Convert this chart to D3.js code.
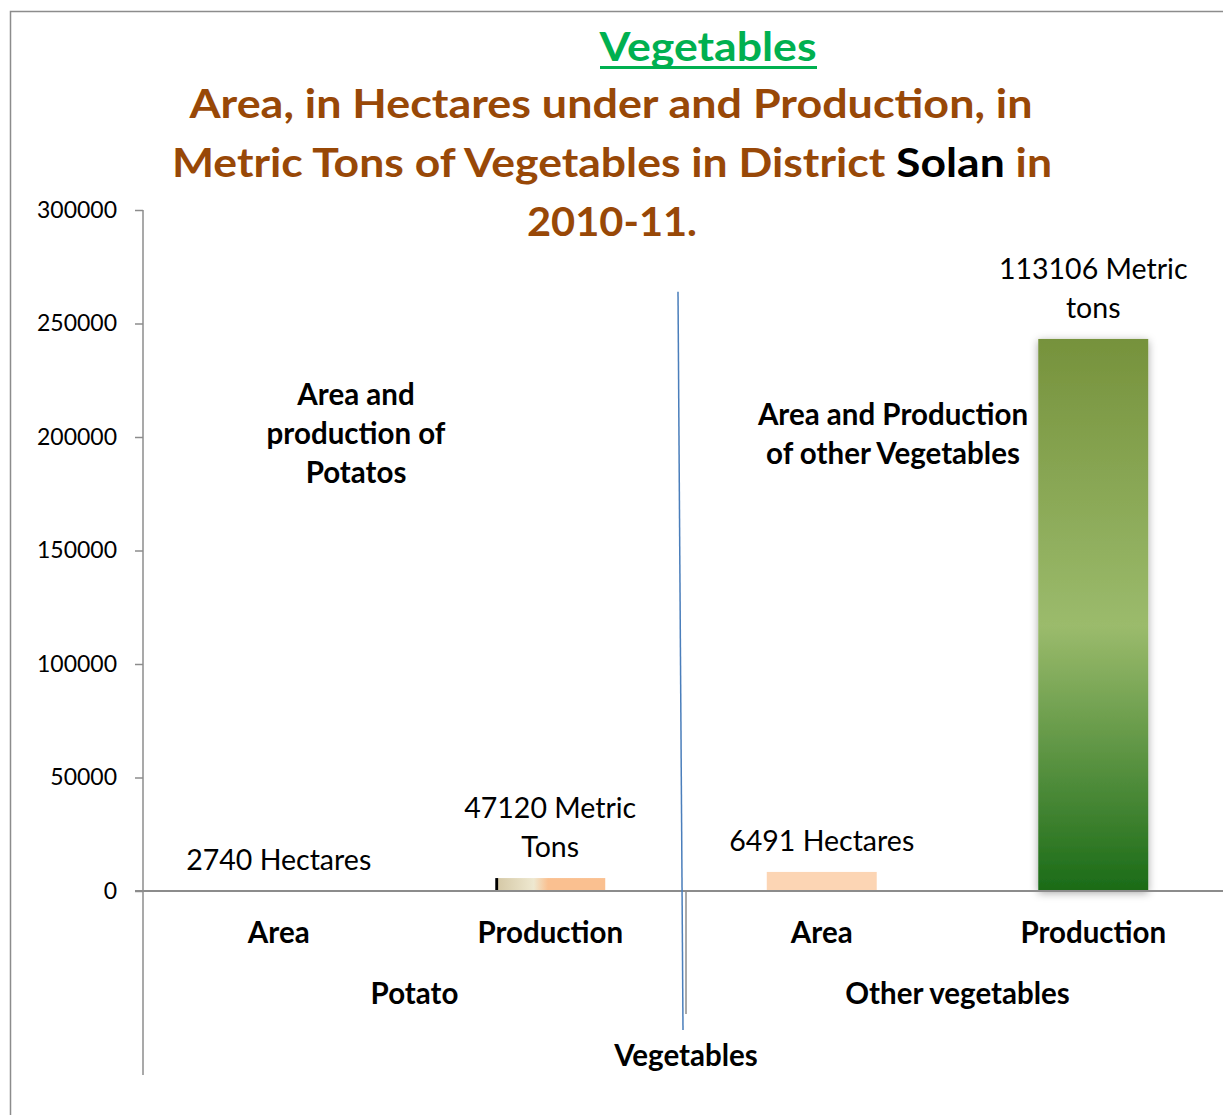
<!DOCTYPE html>
<meta charset="utf-8">
<script src="https://d3js.org/d3.v7.min.js"></script>
<style>
  body { margin: 0; background: #fff; }
  text { font-family: Lato, "Open Sans", sans-serif; }
</style>
<div id="chart"></div>
<script>
  // data
  var categories = ["Potato Area", "Potato Production", "Other Area", "Other Production"];
  var catLabels = ["Area", "Production", "Area", "Production"];
  var values = [0, 5700, 8400, 243200];
  var dataLabels = [["2740 Hectares"], ["47120 Metric", "Tons"], ["6491 Hectares"], ["113106 Metric", "tons"]];
  var groups = ["Potato", "Other vegetables"];
  var yTicks = [0, 50000, 100000, 150000, 200000, 250000, 300000];

  var W = 1223, H = 1115;
  var svg = d3.select("#chart").append("svg")
    .attr("width", W).attr("height", H);

  var defs = svg.append("defs");
  var gGreen = defs.append("linearGradient").attr("id", "green")
    .attr("x1", 0).attr("y1", 0).attr("x2", 0).attr("y2", 1);
  gGreen.append("stop").attr("offset", "0%").attr("stop-color", "#76923c");
  gGreen.append("stop").attr("offset", "52%").attr("stop-color", "#9bbb6c");
  gGreen.append("stop").attr("offset", "100%").attr("stop-color", "#1a6b17");
  var gPot = defs.append("linearGradient").attr("id", "potato")
    .attr("x1", 0).attr("y1", 0).attr("x2", 1).attr("y2", 0);
  gPot.append("stop").attr("offset", "0%").attr("stop-color", "#000");
  gPot.append("stop").attr("offset", "2.5%").attr("stop-color", "#000");
  gPot.append("stop").attr("offset", "3%").attr("stop-color", "#d6caa8");
  gPot.append("stop").attr("offset", "35%").attr("stop-color", "#eee8d0");
  gPot.append("stop").attr("offset", "48%").attr("stop-color", "#fac090");
  gPot.append("stop").attr("offset", "100%").attr("stop-color", "#fac090");
  var sh = defs.append("filter").attr("id", "shadow")
    .attr("x", "-20%").attr("y", "-5%").attr("width", "140%").attr("height", "110%");
  sh.append("feDropShadow").attr("dx", 0).attr("dy", 2).attr("stdDeviation", 4)
    .attr("flood-color", "#000").attr("flood-opacity", 0.35);

  var fills = ["none", "url(#potato)", "#fcd5b4", "url(#green)"];

  // outer frame
  svg.append("path").attr("d", "M10.5," + H + "V11.5H" + W)
    .attr("fill", "none").attr("stroke", "#8c8c8c").attr("stroke-width", 1.5);

  var x = d3.scaleBand().domain(categories).range([143, 1229])
    .paddingInner(0.595).paddingOuter(0.2975);
  var y = d3.scaleLinear().domain([0, 300000]).range([891, 210]);

  // y axis
  var yAxis = svg.append("g").attr("transform", "translate(143,0)")
    .call(d3.axisLeft(y).tickValues(yTicks).tickSize(8).tickPadding(18).tickFormat(d3.format("d")));
  yAxis.select(".domain").remove();
  yAxis.selectAll(".tick line").attr("stroke", "#8c8c8c").attr("stroke-width", 1.5);
  yAxis.selectAll(".tick text").attr("fill", "#000").style("font-size", "23px")
    .style("font-family", "Lato, sans-serif");
  svg.append("line").attr("x1", 143).attr("x2", 143).attr("y1", y(300000)).attr("y2", 1075)
    .attr("stroke", "#8c8c8c").attr("stroke-width", 1.5);

  // bars
  svg.selectAll(".bar").data(categories).enter().append("rect")
    .attr("x", function(d) { return x(d); })
    .attr("y", function(d, i) { return y(values[i]); })
    .attr("width", x.bandwidth())
    .attr("height", function(d, i) { return y(0) - y(values[i]); })
    .attr("fill", function(d, i) { return fills[i]; })
    .attr("filter", function(d, i) { return i == 3 ? "url(#shadow)" : null; });

  // x axis line
  svg.append("line").attr("x1", 135).attr("x2", W).attr("y1", y(0)).attr("y2", y(0))
    .attr("stroke", "#8c8c8c").attr("stroke-width", 2);
  var sep = x.range()[0] + 2 * x.step();
  svg.append("line").attr("x1", sep).attr("x2", sep).attr("y1", y(0)).attr("y2", 1014)
    .attr("stroke", "#8c8c8c").attr("stroke-width", 1.5);

  // data labels
  var lbl = svg.selectAll(".dl").data(categories).enter().append("text")
    .attr("text-anchor", "middle").style("font-size", "28.5px").attr("fill", "#000")
    .attr("x", function(d) { return x(d) + x.bandwidth() / 2; })
    .attr("y", function(d, i) {
      var top = y(values[i]) - 21;
      return top - (dataLabels[i].length - 1) * 39;
    });
  lbl.each(function(d, i) {
    var t = d3.select(this);
    dataLabels[i].forEach(function(s, j) {
      t.append("tspan").attr("x", x(d) + x.bandwidth() / 2).attr("dy", j ? 39 : 0).text(s);
    });
  });

  // category labels
  svg.selectAll(".cl").data(categories).enter().append("text")
    .attr("text-anchor", "middle").style("font-size", "29.5px").style("font-weight", "bold")
    .attr("x", function(d) { return x(d) + x.bandwidth() / 2; })
    .attr("y", 943).text(function(d, i) { return catLabels[i]; });
  svg.selectAll(".gl").data(groups).enter().append("text")
    .attr("text-anchor", "middle").style("font-size", "29.5px").style("font-weight", "bold")
    .attr("x", function(d, i) { return x.range()[0] + (i * 2 + 1) * x.step(); })
    .attr("y", 1004).text(function(d) { return d; });
  svg.append("text").attr("text-anchor", "middle").style("font-size", "29.5px").style("font-weight", "bold")
    .attr("x", sep).attr("y", 1066).text("Vegetables");

  // blue divider
  svg.append("line").attr("x1", 678).attr("y1", y(264000)).attr("x2", 683).attr("y2", 1030)
    .attr("stroke", "#4a7ebb").attr("stroke-width", 1.5);

  // annotations
  function block(lines, cx, y0) {
    var t = svg.append("text").attr("text-anchor", "middle").style("font-size", "29.5px")
      .style("font-weight", "bold").attr("y", y0);
    lines.forEach(function(s, j) {
      t.append("tspan").attr("x", cx).attr("dy", j ? 39 : 0).text(s);
    });
  }
  block(["Area and", "production of", "Potatos"], 356, 405);
  block(["Area and Production", "of other Vegetables"], 893, 425);

  // titles
  svg.append("text").attr("x", 708).attr("y", 61).attr("text-anchor", "middle")
    .style("font-size", "40px").style("font-weight", "bold").attr("fill", "#00b050")
    .attr("textLength", 217).attr("lengthAdjust", "spacingAndGlyphs").text("Vegetables");
  svg.append("rect").attr("x", 600).attr("y", 66).attr("width", 217).attr("height", 3).attr("fill", "#00b050");

  var brown = "#984807";
  svg.append("text").attr("x", 611).attr("y", 118).attr("text-anchor", "middle")
    .style("font-size", "40px").style("font-weight", "bold").attr("fill", brown)
    .attr("textLength", 843).attr("lengthAdjust", "spacingAndGlyphs")
    .text("Area, in Hectares under and Production, in");
  var l2 = svg.append("text").attr("x", 612).attr("y", 177).attr("text-anchor", "middle")
    .style("font-size", "40px").style("font-weight", "bold").attr("fill", brown)
    .attr("textLength", 880).attr("lengthAdjust", "spacingAndGlyphs");
  l2.append("tspan").text("Metric Tons of Vegetables in District ");
  l2.append("tspan").attr("fill", "#000").text("Solan");
  l2.append("tspan").text(" in");
  svg.append("text").attr("x", 612).attr("y", 236).attr("text-anchor", "middle")
    .style("font-size", "40px").style("font-weight", "bold").attr("fill", brown)
    .attr("textLength", 170).attr("lengthAdjust", "spacingAndGlyphs").text("2010-11.");
</script>
